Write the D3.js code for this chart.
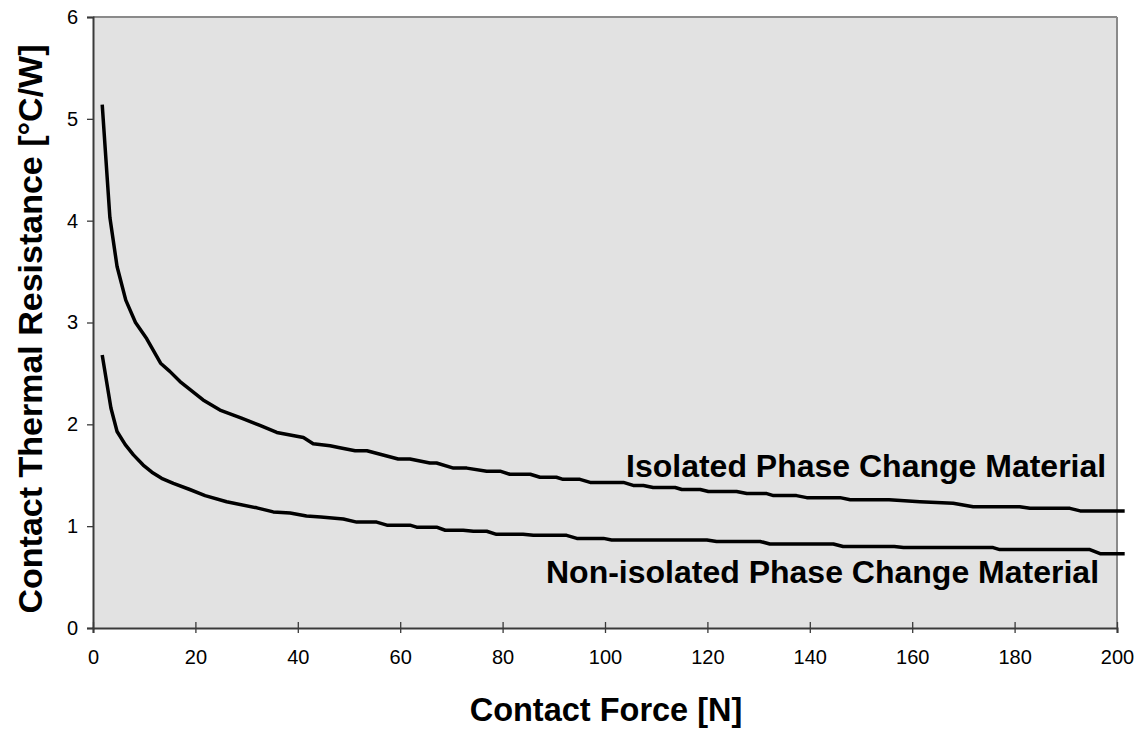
<!DOCTYPE html>
<html><head><meta charset="utf-8">
<script src="https://cdn.jsdelivr.net/npm/d3@7"></script>
<style>
body{margin:0;background:#fff;}
text{font-family:"Liberation Sans",Arial,sans-serif;}
</style></head>
<body><svg id="c" width="1141" height="734"></svg>
<script>
const isolatedForce = [1.8,3.3,4.7,6.4,8.3,10.5,13.2,15.0,17.0,21.5,24.8,29.0,32.6,35.9,41.1,43.0,46.3,48.2,51.2,53.5,59.6,61.9,65.8,67.1,70.4,73.0,76.9,79.5,81.4,85.4,87.3,90.5,91.8,95.1,97.1,103.6,105.5,107.5,109.4,113.7,115.0,118.6,120.2,125.7,127.7,131.6,132.9,137.4,139.4,145.9,147.9,155.5,161.5,168.0,171.9,181.0,183.0,190.8,192.8,201.5];
const isolatedR = [5.14,4.03,3.55,3.22,3.00,2.84,2.60,2.52,2.42,2.24,2.14,2.06,1.99,1.92,1.87,1.81,1.79,1.77,1.74,1.74,1.66,1.66,1.62,1.62,1.57,1.57,1.54,1.54,1.51,1.51,1.48,1.48,1.46,1.46,1.43,1.43,1.40,1.40,1.38,1.38,1.36,1.36,1.34,1.34,1.32,1.32,1.30,1.30,1.28,1.28,1.26,1.26,1.24,1.225,1.19,1.19,1.175,1.175,1.15,1.15];
const nonIsolatedForce = [1.8,3.5,4.7,6.3,7.9,9.8,11.5,13.4,15.7,18.9,21.9,26.1,32.0,35.2,38.5,41.7,44.5,48.9,51.5,55.4,57.4,61.9,63.2,67.1,68.8,72.3,74.3,76.9,78.8,84.0,86.0,92.5,94.5,99.7,101.3,119.9,121.8,130.3,132.2,144.6,146.5,156.5,158.3,175.8,177.1,194.7,196.7,201.5];
const nonIsolatedR = [2.68,2.16,1.93,1.80,1.70,1.60,1.53,1.47,1.42,1.36,1.30,1.24,1.18,1.14,1.13,1.10,1.09,1.07,1.04,1.04,1.01,1.01,0.99,0.99,0.96,0.96,0.95,0.95,0.92,0.92,0.91,0.91,0.88,0.88,0.865,0.865,0.85,0.85,0.825,0.825,0.80,0.80,0.79,0.79,0.77,0.77,0.73,0.73];
const xTicks = [0,20,40,60,80,100,120,140,160,180,200];
const yTicks = [0,1,2,3,4,5,6];
const seriesLabels = ["Isolated Phase Change Material","Non-isolated Phase Change Material"];
const xTitle = "Contact Force [N]";
const yTitle = "Contact Thermal Resistance [°C/W]";

const L=93,R=1117,T=17,B=628;
const svg=d3.select("#c");
const x=d3.scaleLinear().domain([0,200]).range([L,R]);
const y=d3.scaleLinear().domain([0,6]).range([B,T]);

svg.append("rect").attr("x",L).attr("y",T).attr("width",R-L).attr("height",B-T).attr("fill","#e2e2e2");
svg.append("line").attr("x1",L).attr("x2",R).attr("y1",T).attr("y2",T).attr("stroke","#8a8a8a").attr("stroke-width",2);
svg.append("line").attr("x1",R).attr("x2",R).attr("y1",T).attr("y2",B).attr("stroke","#8a8a8a").attr("stroke-width",2);

const yAxis=svg.append("g").attr("transform",`translate(${L},0)`)
 .call(d3.axisLeft(y).tickValues(yTicks).tickSize(6).tickPadding(9).tickFormat(d3.format("d")));
const xAxis=svg.append("g").attr("transform",`translate(0,${B})`)
 .call(d3.axisBottom(x).tickValues(xTicks).tickSize(5).tickPadding(17).tickFormat(d3.format("d")));
[yAxis,xAxis].forEach(a=>{
  a.select(".domain").attr("stroke","#3a3a3a").attr("stroke-width",2);
  a.selectAll(".tick line").attr("stroke","#3a3a3a").attr("stroke-width",1.3);
  a.selectAll(".tick text").attr("font-size",20).attr("fill","#000").style("font-family","Liberation Sans, Arial, sans-serif");
});
xAxis.selectAll(".tick line").attr("y1",-6);

const line=d3.line().x(d=>x(d[0])).y(d=>y(d[1]));
const s1=isolatedForce.map((f,i)=>[f,isolatedR[i]]);
const s2=nonIsolatedForce.map((f,i)=>[f,nonIsolatedR[i]]);
[s1,s2].forEach(s=>{
  svg.append("path").datum(s).attr("d",line).attr("fill","none").attr("stroke","#000").attr("stroke-width",3.5).attr("stroke-linejoin","round");
});

svg.append("text").attr("x",626).attr("y",477).attr("font-size",32).attr("font-weight","bold").text(seriesLabels[0]);
svg.append("text").attr("x",546).attr("y",583).attr("font-size",32).attr("font-weight","bold").text(seriesLabels[1]);

svg.append("text").attr("x",606).attr("y",721).attr("text-anchor","middle").attr("font-size",32.5).attr("font-weight","bold").text(xTitle);
svg.append("text").attr("transform","translate(42,329) rotate(-90)").attr("text-anchor","middle").attr("font-size",34).attr("font-weight","bold").text(yTitle);
</script></body></html>
